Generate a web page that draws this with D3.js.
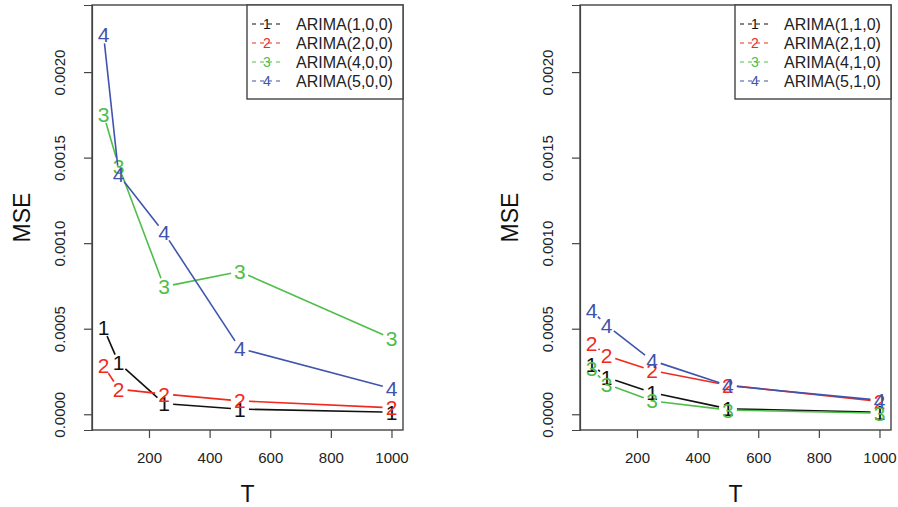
<!DOCTYPE html>
<html>
<head>
<meta charset="utf-8">
<script src="https://cdn.jsdelivr.net/npm/d3@7"></script>
<style>
body { margin: 0; background: #fff; }
text { font-family: "Liberation Sans", Arial, Helvetica, sans-serif; }
</style>
</head>
<body>
<script>
// sample sizes T on the x axis
var sizes = [50, 100, 250, 500, 1000];
var xTicks = [200, 400, 600, 800, 1000];
var yTicks = [0, 0.0005, 0.0010, 0.0015, 0.0020];

// left panel: ARIMA(p,0,0)
var leftNames = ["ARIMA(1,0,0)", "ARIMA(2,0,0)", "ARIMA(4,0,0)", "ARIMA(5,0,0)"];
var left1 = [0.000505, 0.000300, 0.000062, 0.000030, 0.000012];
var left2 = [0.000284, 0.000147, 0.000118, 0.000078, 0.000038];
var left3 = [0.001753, 0.001450, 0.000746, 0.000834, 0.000444];
var left4 = [0.002220, 0.001400, 0.001060, 0.000385, 0.000150];

// right panel: ARIMA(p,1,0)
var rightNames = ["ARIMA(1,1,0)", "ARIMA(2,1,0)", "ARIMA(4,1,0)", "ARIMA(5,1,0)"];
var right1 = [0.000294, 0.000215, 0.000127, 0.000032, 0.000012];
var right2 = [0.000415, 0.000343, 0.000255, 0.000170, 0.000075];
var right3 = [0.000265, 0.000176, 0.000078, 0.000025, 0.000006];
var right4 = [0.000608, 0.000520, 0.000314, 0.000167, 0.000082];

var colors = ["#111111", "#f02a1e", "#4fbd4a", "#3f54ae"];

var W = 898, H = 507;
var svg = d3.select("body").append("svg").attr("width", W).attr("height", H);

function panel(x0, names, series){
	var top = 5, bottom = 430, right = x0 + 311;

	// R style 4% axis extension
	var x = d3.scaleLinear().domain([12, 1038]).range([x0, right]);
	var y = d3.scaleLinear().domain([-0.000092, 0.002392]).range([bottom, top]);

	var g = svg.append("g");

	// y axis
	var ya = g.append("g").attr("transform", "translate(" + x0 + ",0)")
		.call(d3.axisLeft(y).tickValues(yTicks).tickSize(8).tickFormat(d3.format(".4f")));
	ya.select(".domain").attr("stroke", "#444").attr("stroke-width", 1.2);
	ya.selectAll(".tick line").attr("stroke", "#444").attr("stroke-width", 1.2);
	ya.selectAll(".tick text")
		.attr("font-size", 15).attr("fill", "#222")
		.attr("x", 0).attr("dy", 0)
		.attr("text-anchor", "middle")
		.attr("transform", "translate(-27,0) rotate(-90)")
		.attr("font-family", "'Liberation Sans', Arial, sans-serif");

	// x axis
	var xa = g.append("g").attr("transform", "translate(0," + bottom + ")")
		.call(d3.axisBottom(x).tickValues(xTicks).tickSize(8).tickFormat(d3.format("d")));
	xa.select(".domain").remove();
	xa.selectAll(".tick line").attr("stroke", "#444").attr("stroke-width", 1.2);
	xa.selectAll(".tick text").attr("font-size", 15).attr("fill", "#222").attr("y", 22)
		.attr("font-family", "'Liberation Sans', Arial, sans-serif");

	// plot box
	g.append("rect").attr("x", x0).attr("y", top).attr("width", right - x0).attr("height", bottom - top)
		.attr("fill", "none").attr("stroke", "#444").attr("stroke-width", 1.4);

	// axis titles
	g.append("text").attr("x", (x0 + right) / 2).attr("y", 502).attr("text-anchor", "middle")
		.attr("font-size", 23).attr("fill", "#111").text("T");
	g.append("text").attr("transform", "translate(" + (x0 - 62) + "," + ((top + bottom) / 2) + ") rotate(-90)")
		.attr("text-anchor", "middle").attr("font-size", 23).attr("fill", "#111").text("MSE");

	// type = "b": segments with gaps round the number symbols
	var gap = 9;
	series.forEach(function(vals, s){
		var pts = vals.map(function(v, i){ return [x(sizes[i]), y(v)]; });
		for (var i = 0; i < pts.length - 1; i++){
			var a = pts[i], b = pts[i+1];
			var dx = b[0] - a[0], dy = b[1] - a[1];
			var len = Math.sqrt(dx*dx + dy*dy);
			if (len <= 2*gap) continue;
			var ux = dx/len, uy = dy/len;
			g.append("line")
				.attr("x1", a[0] + ux*gap).attr("y1", a[1] + uy*gap)
				.attr("x2", b[0] - ux*gap).attr("y2", b[1] - uy*gap)
				.attr("stroke", colors[s]).attr("stroke-width", 1.6);
		}
		g.selectAll(null).data(pts).enter().append("text")
			.attr("x", function(d){ return d[0]; })
			.attr("y", function(d){ return d[1]; })
			.attr("dy", "0.36em")
			.attr("text-anchor", "middle")
			.attr("font-size", 21)
			.attr("fill", colors[s])
			.text(s + 1);
	});

	// legend
	var lx = right - 156, ly = top, lw = 156, lh = 94;
	var lg = g.append("g");
	lg.append("rect").attr("x", lx).attr("y", ly).attr("width", lw).attr("height", lh)
		.attr("fill", "#fff").attr("stroke", "#444").attr("stroke-width", 1.4);
	names.forEach(function(n, i){
		var yy = ly + 19 + i*19;
		lg.append("line").attr("x1", lx + 5).attr("x2", lx + 34).attr("y1", yy).attr("y2", yy)
			.attr("stroke", colors[i]).attr("stroke-width", 1.2).attr("stroke-dasharray", "4,4");
		lg.append("text").attr("x", lx + 20).attr("y", yy).attr("dy", "0.36em")
			.attr("text-anchor", "middle").attr("font-size", 14).attr("fill", colors[i])
			.text(i + 1);
		lg.append("text").attr("x", lx + 49).attr("y", yy).attr("dy", "0.36em")
			.attr("font-size", 16).attr("fill", "#222").text(n);
	});
}

panel(92, leftNames, [left1, left2, left3, left4]);
panel(580, rightNames, [right1, right2, right3, right4]);
</script>
</body>
</html>
